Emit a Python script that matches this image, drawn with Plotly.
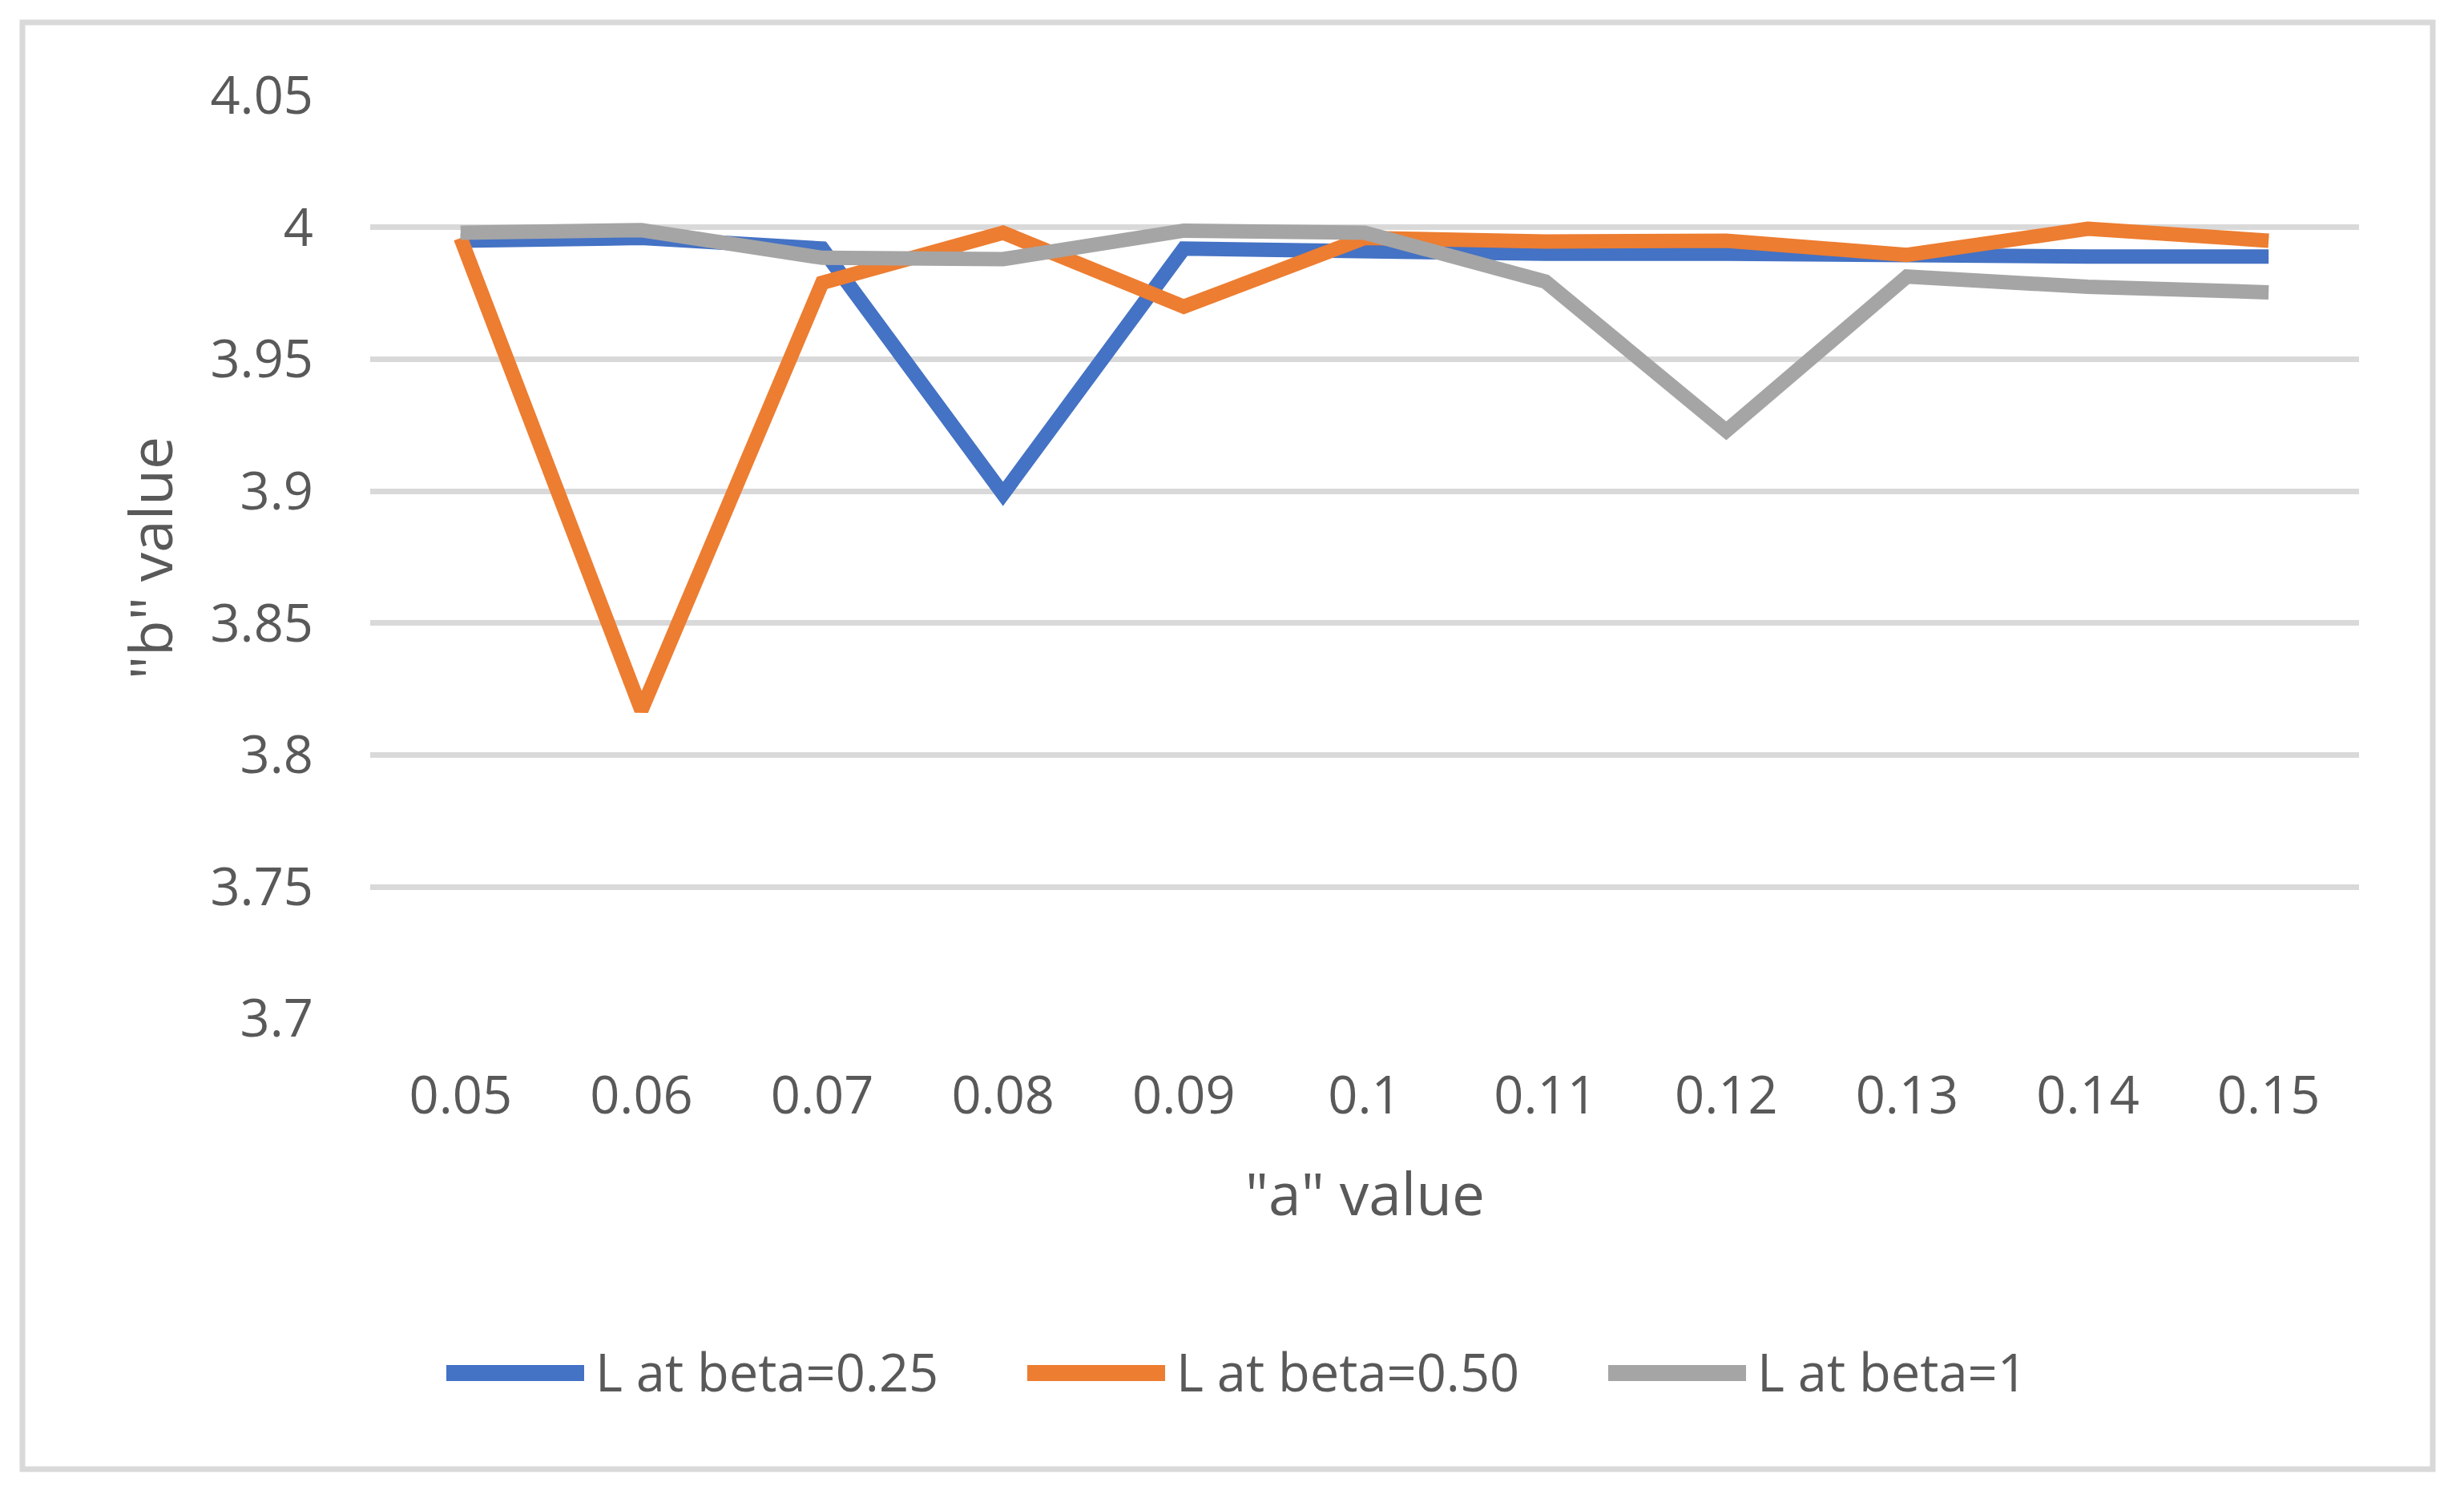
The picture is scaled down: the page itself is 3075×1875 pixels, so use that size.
import plotly.graph_objects as go

# "a" values (categories on the x axis)
a_values = ["0.05", "0.06", "0.07", "0.08", "0.09", "0.1", "0.11", "0.12", "0.13", "0.14", "0.15"]

# "b" values per series
b_beta_025 = [3.995, 3.996, 3.992, 3.899, 3.992, 3.9905, 3.990, 3.990, 3.989, 3.989, 3.989]
b_beta_050 = [3.996, 3.817, 3.979, 3.998, 3.970, 3.996, 3.9947, 3.995, 3.9896, 3.9995, 3.995]
b_beta_1 = [3.998, 3.999, 3.9885, 3.988, 3.9988, 3.998, 3.9795, 3.9229, 3.9814, 3.9775, 3.9754]

series_names = ["L at beta=0.25", "L at beta=0.50", "L at beta=1"]
series_colors = ["#4472C4", "#ED7D31", "#A5A5A5"]

y_tick_vals = [3.7, 3.75, 3.8, 3.85, 3.9, 3.95, 4.0, 4.05]
y_tick_text = ["3.7", "3.75", "3.8", "3.85", "3.9", "3.95", "4", "4.05"]

# page body adds an 8px margin, so the figure is drawn 8px smaller and shifted
OFF = 8
W, H = 3075 - OFF, 1875 - OFF
PLOT_L, PLOT_R, PLOT_T, PLOT_B = 462 - OFF, 2944 - OFF, 119 - OFF, 1272 - OFF
TEXT = "#595959"
GRID = "#D9D9D9"
FONT = "Open Sans, Segoe UI, sans-serif"


def px(x):
    # x in screenshot pixels -> paper fraction
    return (x - OFF - PLOT_L) / (PLOT_R - PLOT_L)


def py(y):
    # y in screenshot pixels -> paper fraction
    return (PLOT_B - (y - OFF)) / (PLOT_B - PLOT_T)


fig = go.Figure()
for name, color, vals in zip(series_names, series_colors, [b_beta_025, b_beta_050, b_beta_1]):
    fig.add_trace(
        go.Scatter(
            x=a_values,
            y=vals,
            mode="lines",
            name=name,
            line=dict(color=color, width=18),
            showlegend=False,
        )
    )

shapes = [
    # outer chart border
    dict(
        type="rect", xref="paper", yref="paper",
        x0=px(28), x1=px(3036), y0=py(1834), y1=py(28),
        line=dict(color=GRID, width=7), layer="below",
    )
]
annotations = [
    dict(
        text='"a" value', xref="paper", yref="paper", x=px(1703), y=py(1488),
        xanchor="center", yanchor="middle", showarrow=False,
        font=dict(size=73, color=TEXT, family=FONT),
    ),
    dict(
        text='"b" value', xref="paper", yref="paper", x=px(186), y=py(697),
        xanchor="center", yanchor="middle", showarrow=False, textangle=-90,
        font=dict(size=73, color=TEXT, family=FONT),
    ),
]

# legend drawn by hand so the sample lines match the long Excel swatches
for i, (name, color) in enumerate(zip(series_names, series_colors)):
    x0 = 553 + 725 * i
    shapes.append(
        dict(
            type="line", xref="paper", yref="paper",
            x0=px(x0 + 4), x1=px(x0 + 176), y0=py(1714), y1=py(1714),
            line=dict(color=color, width=20),
        )
    )
    annotations.append(
        dict(
            text=name, xref="paper", yref="paper", x=px(x0 + 188), y=py(1712),
            xanchor="left", yanchor="middle", showarrow=False,
            font=dict(size=65, color=TEXT, family=FONT),
        )
    )

fig.update_layout(
    width=W,
    height=H,
    margin=dict(l=PLOT_L, r=W - PLOT_R, t=PLOT_T, b=H - PLOT_B, pad=0),
    paper_bgcolor="white",
    plot_bgcolor="white",
    font=dict(family=FONT, color=TEXT, size=65),
    shapes=shapes,
    annotations=annotations,
    showlegend=False,
)
fig.update_xaxes(
    type="category",
    range=[-0.5, 10.5],
    showgrid=False,
    zeroline=False,
    showline=False,
    ticks="",
    ticklabelstandoff=52,
    tickfont=dict(size=65, color=TEXT),
)
fig.update_yaxes(
    range=[3.6999, 4.0501],
    tickvals=y_tick_vals,
    ticktext=y_tick_text,
    showgrid=True,
    gridcolor=GRID,
    gridwidth=7,
    zeroline=False,
    showline=False,
    ticks="",
    ticklabelstandoff=70,
    tickfont=dict(size=65, color=TEXT),
)

fig.write_html("out.html")
